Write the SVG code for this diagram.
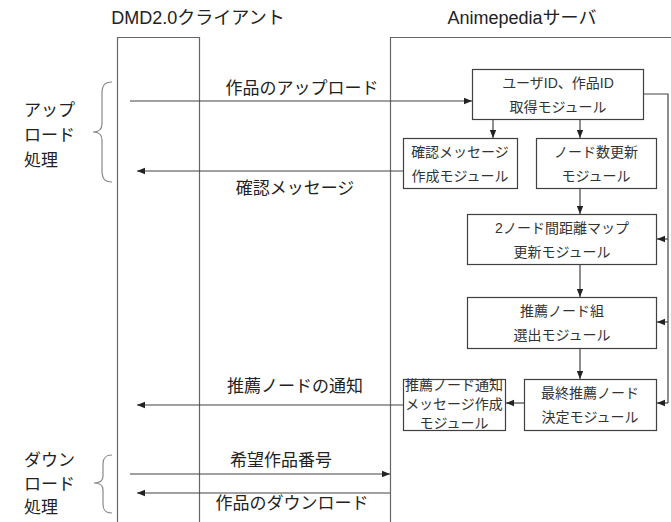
<svg xmlns="http://www.w3.org/2000/svg" width="671" height="522" viewBox="0 0 671 522">
<style>
text{font-family:"Liberation Sans","Noto Sans CJK JP",sans-serif;fill:#222;}
.h{font-size:18px;text-anchor:middle;}
.lbl{font-size:17px;text-anchor:middle;}
.side{font-size:17px;}
.bt{font-size:14px;text-anchor:middle;fill:#333;}
.lane{fill:none;stroke:#666;stroke-width:1.2;}
.box{fill:#fff;stroke:#404040;stroke-width:1.2;}
.c{fill:none;stroke:#444;stroke-width:1.2;}
.br{fill:none;stroke:#888;stroke-width:1.2;}
</style>
<defs>
<marker id="ah" viewBox="0 0 8 8" refX="8" refY="4" markerWidth="8" markerHeight="8" markerUnits="userSpaceOnUse" orient="auto">
<path d="M0,0.8 L8,4 L0,7.2 Z" fill="#222"/>
</marker>
</defs>
<g id="headers">
<text class="h" x="198" y="24">DMD2.0クライアント</text>
<text class="h" x="522" y="24">Animepediaサーバ</text>
</g>
<g id="lanes">
<path class="lane" d="M117.5,522 V37.5 H199.5 V522"/>
<path class="lane" d="M390.5,522 V37.5 H671"/>
</g>
<g id="side-labels">
<text class="side" x="24" y="116">アップ</text>
<text class="side" x="24" y="141">ロード</text>
<text class="side" x="24" y="166">処理</text>
<path class="br" d="M112,82 C104,82 102,86 102,94 V124 C102,130 98,132 93,132 C98,132 102,134 102,140 V170 C102,178 104,182 112,182"/>
<text class="side" x="24" y="466">ダウン</text>
<text class="side" x="24" y="490">ロード</text>
<text class="side" x="24" y="513">処理</text>
<path class="br" d="M112,455 C105,455 103,458 103,464 V476 C103,481 99,483 94,483 C99,483 103,485 103,490 V504 C103,510 105,513 112,513"/>
</g>
<g id="n1"><rect class="box" x="472.5" y="69.5" width="171" height="50"/>
<text class="bt" x="558" y="88">ユーザID、作品ID</text><text class="bt" x="558" y="112">取得モジュール</text></g>
<g id="n2"><rect class="box" x="403.5" y="138.5" width="114" height="50"/>
<text class="bt" x="460" y="157">確認メッセージ</text><text class="bt" x="460" y="181">作成モジュール</text></g>
<g id="n3"><rect class="box" x="536.5" y="138.5" width="120" height="50"/>
<text class="bt" x="596" y="157">ノード数更新</text><text class="bt" x="596" y="181">モジュール</text></g>
<g id="n4"><rect class="box" x="467.5" y="214.5" width="189" height="50"/>
<text class="bt" x="562" y="233">2ノード間距離マップ</text><text class="bt" x="562" y="257">更新モジュール</text></g>
<g id="n5"><rect class="box" x="467.5" y="297.5" width="189" height="51"/>
<text class="bt" x="562" y="316">推薦ノード組</text><text class="bt" x="562" y="340">選出モジュール</text></g>
<g id="n6"><rect class="box" x="524.5" y="379.5" width="132" height="51"/>
<text class="bt" x="590" y="398">最終推薦ノード</text><text class="bt" x="590" y="422">決定モジュール</text></g>
<g id="n7"><rect class="box" x="403.5" y="379.5" width="102" height="51"/>
<text class="bt" x="454" y="390">推薦ノード通知</text><text class="bt" x="454" y="409">メッセージ作成</text><text class="bt" x="454" y="428">モジュール</text></g>
<g id="connectors">
<line class="c" x1="130" y1="101" x2="472" y2="101" marker-end="url(#ah)"/>
<line class="c" x1="403" y1="171" x2="137" y2="171" marker-end="url(#ah)"/>
<line class="c" x1="403" y1="405" x2="137" y2="405" marker-end="url(#ah)"/>
<line class="c" x1="130" y1="474" x2="390" y2="474" marker-end="url(#ah)"/>
<line class="c" x1="390" y1="493" x2="137" y2="493" marker-end="url(#ah)"/>
<line class="c" x1="493" y1="120" x2="493" y2="138" marker-end="url(#ah)"/>
<line class="c" x1="580" y1="120" x2="580" y2="138" marker-end="url(#ah)"/>
<line class="c" x1="580" y1="189" x2="580" y2="214" marker-end="url(#ah)"/>
<line class="c" x1="580" y1="265" x2="580" y2="297" marker-end="url(#ah)"/>
<line class="c" x1="580" y1="349" x2="580" y2="379" marker-end="url(#ah)"/>
<line class="c" x1="524" y1="403" x2="506" y2="403" marker-end="url(#ah)"/>
<path class="c" d="M644,94 H668 V403"/>
<line class="c" x1="668" y1="239" x2="657" y2="239" marker-end="url(#ah)"/>
<line class="c" x1="668" y1="322" x2="657" y2="322" marker-end="url(#ah)"/>
<line class="c" x1="668" y1="403" x2="657" y2="403" marker-end="url(#ah)"/>
<text class="lbl" x="302" y="94">作品のアップロード</text>
<text class="lbl" x="295" y="194">確認メッセージ</text>
<text class="lbl" x="295" y="392">推薦ノードの通知</text>
<text class="lbl" x="281" y="466">希望作品番号</text>
<text class="lbl" x="292" y="509">作品のダウンロード</text>
</g>
</svg>
